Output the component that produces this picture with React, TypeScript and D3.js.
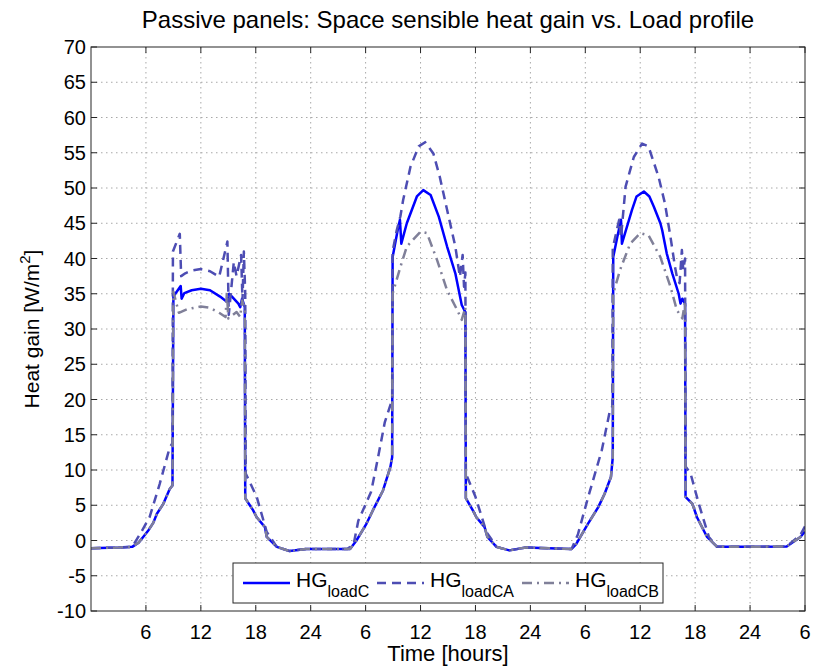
import React from "react";
import * as d3 from "d3";

const W = 813;
const H = 666;

const xTicks = [6, 12, 18, 24, 30, 36, 42, 48, 54, 60, 66, 72, 78];
const xTickLabels = ["6", "12", "18", "24", "6", "12", "18", "24", "6", "12", "18", "24", "6"];
const yTicks = [-10, -5, 0, 5, 10, 15, 20, 25, 30, 35, 40, 45, 50, 55, 60, 65, 70];

const seriesNames = ["loadC", "loadCA", "loadCB"];

const seriesC: [number, number][] = [
  [0, -1.1], [3, -1.0], [4.5, -0.9], [5.2, -0.3], [5.7, 0.5], [6.3, 1.5], [6.8, 2.5], [7.2, 3.8], [7.9, 5.2], [8.6, 7.3], [8.9, 7.8],
  [9.0, 34.6], [9.8, 36.1], [9.9, 34.3], [10.2, 35.1], [11, 35.5], [12, 35.7], [13, 35.5], [14.1, 34.6], [14.8, 33.9], [15.1, 35.0], [15.4, 34.6], [16.1, 33.6], [16.3, 33.1], [16.5, 34.3], [16.8, 33.1],
  [16.85, 6.0], [17.7, 4.3], [18.1, 3.3], [19.0, 1.9], [19.2, 0.5], [20.3, -0.9], [21.7, -1.5], [23.5, -1.2], [28.3, -1.2],
  [29.0, 0.0], [30.1, 2.4], [30.8, 4.3], [31.9, 7.1], [32.7, 10.4], [32.9, 11.8],
  [32.95, 40.2], [33.5, 44.0], [33.75, 45.5], [33.9, 42.1], [34.5, 45.0], [35.6, 48.8], [36.3, 49.7], [37.1, 49.0], [38.0, 45.9], [38.9, 41.7], [39.8, 37.9], [40.5, 33.4], [40.9, 32.4],
  [40.95, 6.0], [41.7, 4.3], [42.1, 3.3], [43.0, 1.9], [43.3, 0.5], [44.3, -0.9], [45.7, -1.4], [47.5, -1.0], [52.5, -1.2],
  [53.0, -0.5], [54.3, 2.4], [55.4, 4.7], [56.1, 6.6], [56.8, 9.0], [57.0, 11.8],
  [57.05, 40.2], [57.5, 43.1], [57.9, 45.5], [58.0, 42.1], [59.1, 46.9], [59.6, 48.8], [60.4, 49.5], [61.0, 48.8], [61.5, 47.3], [62.2, 45.0], [62.4, 44.0], [62.9, 40.7], [63.5, 37.9], [64.2, 35.0], [64.4, 33.6], [64.6, 34.3], [64.9, 33.6],
  [64.95, 6.2], [65.7, 5.2], [66.2, 3.3], [67.3, 0.5], [68.4, -0.9], [70.2, -0.9], [76.0, -0.85], [77.5, 0.5], [78, 1.3],
];

const seriesCA: [number, number][] = [
  [0, -1.1], [3, -1.0], [4.5, -0.9], [5.4, 1.0], [6.4, 3.3], [7.5, 8.0], [8.6, 13.2], [8.9, 13.8],
  [8.95, 41.0], [9.7, 43.5], [9.85, 37.5], [10.3, 37.9], [11, 38.3], [12, 38.5], [13, 38.2], [14.0, 37.4], [14.9, 42.4], [15.05, 32], [15.6, 39.5], [15.9, 37.5], [16.4, 40.5], [16.55, 34], [16.7, 41], [16.85, 35],
  [16.9, 9.5], [18.1, 6.2], [19.2, 1.2], [20.3, -0.9], [21.7, -1.5], [23.5, -1.2], [28.0, -1.2],
  [28.7, -0.5], [29.2, 2.8], [30.6, 6.9], [31.3, 11.4], [32.1, 16.8], [32.9, 20],
  [32.95, 41], [33.4, 44], [33.8, 46], [34.1, 48.3], [34.9, 53], [35.8, 55.9], [36.5, 56.5], [37.4, 54.9], [38.1, 51.6], [38.9, 46.9], [39.8, 41.7], [40.3, 37.4], [40.6, 40.5], [40.75, 36], [40.9, 38],
  [40.95, 9.5], [42.0, 6.2], [43.2, 1.2], [44.3, -0.9], [45.7, -1.4], [47.5, -1.0], [52.5, -1.2],
  [53.2, 0.9], [54.3, 6.1], [55.8, 12.8], [56.7, 18.5], [56.95, 19],
  [57.0, 41.5], [57.7, 45.5], [57.9, 43], [58.4, 50.2], [59.3, 54.4], [60.2, 56.3], [60.9, 55.9], [62.0, 51.6], [62.7, 47.8], [63.3, 43.1], [63.8, 38.8], [64.0, 37.4], [64.3, 36.5], [64.55, 41.2], [64.7, 38.4], [64.9, 40],
  [64.95, 10.5], [65.5, 9.5], [66.4, 5.2], [67.5, 0.5], [68.4, -0.9], [70.2, -0.9], [76, -0.85], [77.5, 0.8], [78, 2.0],
];

const seriesCB: [number, number][] = [
  [0, -1.1], [3, -1.0], [4.5, -0.9], [5.2, -0.3], [5.7, 0.5], [6.3, 1.5], [6.8, 2.5], [7.2, 3.8], [7.9, 5.2], [8.6, 7.3], [8.9, 7.8],
  [9.0, 35.3], [9.6, 32.3], [10.5, 32.8], [12, 33.2], [13, 33.0], [14, 32.3], [14.7, 31.7], [14.85, 35.3], [15.0, 31.5], [15.9, 32.4], [16.3, 31.7], [16.5, 34.0], [16.8, 33.0],
  [16.85, 6.0], [17.7, 4.3], [18.1, 3.3], [19.0, 1.9], [19.2, 0.5], [20.3, -0.9], [21.7, -1.5], [23.5, -1.2], [28.3, -1.2],
  [29.0, 0.0], [30.1, 2.4], [30.8, 4.3], [31.9, 7.1], [32.7, 10.4], [32.9, 11.8],
  [32.95, 35], [33.8, 38.8], [34.5, 41.7], [36.0, 43.8], [36.7, 43.6], [37.8, 39.8], [38.9, 35.5], [40.0, 32.7], [40.5, 31.3], [40.9, 33.1],
  [40.95, 6.0], [41.7, 4.3], [42.1, 3.3], [43.0, 1.9], [43.3, 0.5], [44.3, -0.9], [45.7, -1.4], [47.5, -1.0], [52.5, -1.2],
  [53.0, -0.5], [54.3, 2.4], [55.4, 4.7], [56.1, 6.6], [56.8, 9.0], [57.0, 11.8],
  [57.05, 35], [57.8, 38.4], [58.9, 42.1], [60.0, 43.6], [60.9, 43.3], [62.2, 40.2], [63.3, 36.0], [64.0, 32.7], [64.6, 31.5], [64.9, 33.9],
  [64.95, 6.2], [65.7, 5.2], [66.2, 3.3], [67.3, 0.5], [68.4, -0.9], [70.2, -0.9], [76.0, -0.85], [77.5, 0.5], [78, 1.3],
];

const FONT = "'Liberation Sans', Arial, Helvetica, sans-serif";

export default function App() {
  const left = 91, right = 805, top = 47, bottom = 611;
  const x = d3.scaleLinear().domain([0, 78]).range([left, right]);
  const y = d3.scaleLinear().domain([-10, 70]).range([bottom, top]);
  const line = d3.line<[number, number]>().x((d) => x(d[0])).y((d) => y(d[1]));

  const styles = [
    { data: seriesC, color: "#0000ff", dash: undefined as string | undefined },
    { data: seriesCA, color: "#4d4db3", dash: "9,6" },
    { data: seriesCB, color: "#808099", dash: "10,5,2,5" },
  ];
  const legendX = [243, 377, 522];
  const axisColor = "#262626";

  return (
    <svg width={W} height={H} style={{ position: "absolute", left: 0, top: 0, background: "#fff" }} fontFamily={FONT}>
      <rect x={0} y={0} width={W} height={H} fill="#fff" />
      <defs>
        <clipPath id="plotclip">
          <rect x={left} y={top} width={right - left} height={bottom - top} />
        </clipPath>
      </defs>
      {/* grid */}
      {xTicks.slice(0, -1).map((t) => (
        <line key={"gx" + t} x1={x(t)} x2={x(t)} y1={top} y2={bottom} stroke="#a8a8a8" strokeWidth={1} strokeDasharray="1.5,3.5" />
      ))}
      {yTicks.slice(1, -1).map((t) => (
        <line key={"gy" + t} x1={left} x2={right} y1={y(t)} y2={y(t)} stroke="#a8a8a8" strokeWidth={1} strokeDasharray="1.5,3.5" />
      ))}
      {/* series */}
      <g clipPath="url(#plotclip)">
        {styles.map((s, i) => (
          <path key={i} d={line(s.data) || ""} fill="none" stroke={s.color} strokeWidth={2.5} strokeDasharray={s.dash} strokeLinejoin="round" />
        ))}
      </g>
      {/* box */}
      <rect x={left} y={top} width={right - left} height={bottom - top} fill="none" stroke={axisColor} strokeWidth={1} />
      {/* ticks */}
      {xTicks.map((t) => (
        <g key={"tx" + t}>
          <line x1={x(t)} x2={x(t)} y1={bottom} y2={bottom - 6} stroke={axisColor} />
          <line x1={x(t)} x2={x(t)} y1={top} y2={top + 6} stroke={axisColor} />
        </g>
      ))}
      {yTicks.map((t) => (
        <g key={"ty" + t}>
          <line x1={left} x2={left + 6} y1={y(t)} y2={y(t)} stroke={axisColor} />
          <line x1={right} x2={right - 6} y1={y(t)} y2={y(t)} stroke={axisColor} />
        </g>
      ))}
      {/* tick labels */}
      {xTicks.map((t, i) => (
        <text key={"lx" + t} x={x(t)} y={bottom + 28} textAnchor="middle" fontSize={20} fill="#000">
          {xTickLabels[i]}
        </text>
      ))}
      {yTicks.map((t) => (
        <text key={"ly" + t} x={left - 5} y={y(t) + 7} textAnchor="end" fontSize={20} fill="#000">
          {t}
        </text>
      ))}
      {/* title & labels */}
      <text x={(left + right) / 2} y={28} textAnchor="middle" fontSize={24} fill="#000">
        Passive panels: Space sensible heat gain vs. Load profile
      </text>
      <text x={(left + right) / 2} y={661} textAnchor="middle" fontSize={22} fill="#000">
        Time [hours]
      </text>
      <text transform={`translate(39, ${(top + bottom) / 2}) rotate(-90)`} textAnchor="middle" fontSize={21} fill="#000">
        Heat gain [W/m<tspan dy={-9} fontSize={15}>2</tspan><tspan dy={9}>]</tspan>
      </text>
      {/* legend */}
      <rect x={233} y={563} width={430} height={40} fill="#fff" stroke={axisColor} strokeWidth={1} />
      {styles.map((s, i) => (
        <g key={"leg" + i}>
          <line x1={legendX[i]} x2={legendX[i] + 47} y1={583} y2={583} stroke={s.color} strokeWidth={2.5} strokeDasharray={s.dash} />
          <text x={legendX[i] + 53} y={587} fontSize={21} fill="#000">
            HG<tspan dy={10} fontSize={16}>{seriesNames[i]}</tspan>
          </text>
        </g>
      ))}
    </svg>
  );
}
